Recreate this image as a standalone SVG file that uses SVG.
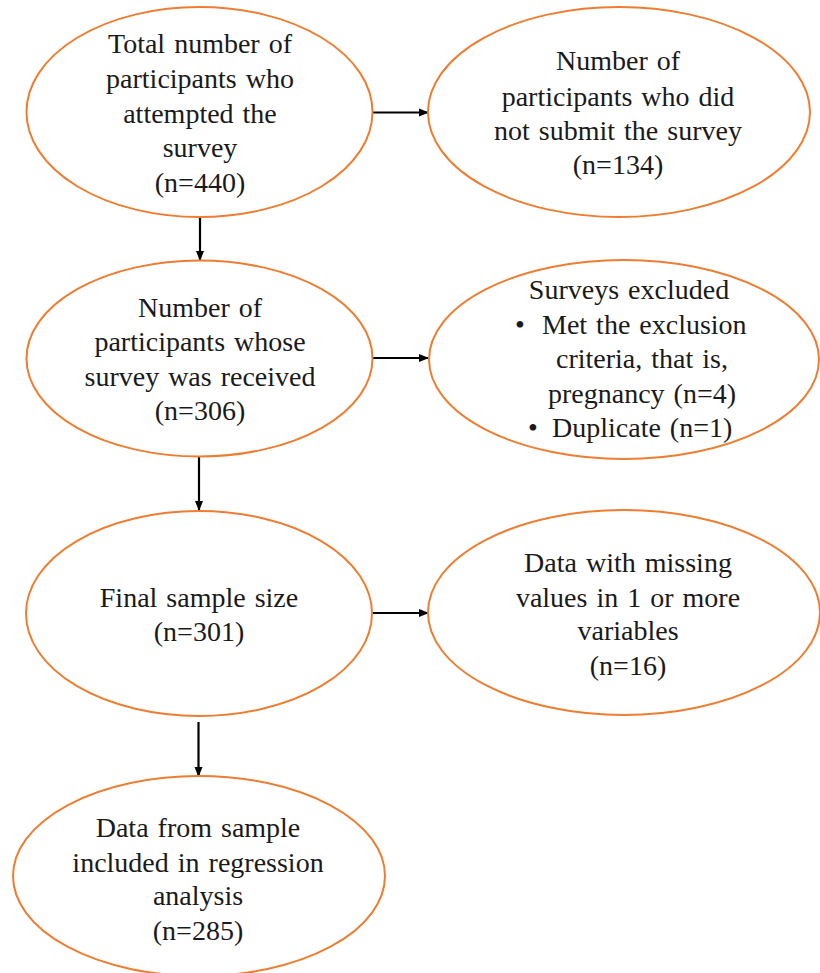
<svg xmlns="http://www.w3.org/2000/svg" width="820" height="973" viewBox="0 0 820 973">
<defs>
<marker id="ah" markerWidth="10" markerHeight="10" refX="9" refY="5" orient="auto" markerUnits="userSpaceOnUse">
<path d="M0,1 L10,5 L0,9 Z" fill="#000"/>
</marker>
<style>
.node ellipse{fill:#fff;stroke:#ED7D31;stroke-width:2}
.node text{font-family:"Liberation Serif","Times New Roman",serif;font-size:28px;fill:#1a1a1a;text-anchor:middle;word-spacing:2px}
.node text.l{text-anchor:start}
.conn line{stroke:#000;stroke-width:2.2;marker-end:url(#ah)}
</style>
</defs>
<rect width="820" height="973" fill="#fff"/>
<g id="connectors" class="conn">
<line x1="373" y1="112.5" x2="428" y2="112.5"/>
<line x1="200" y1="217" x2="200" y2="260"/>
<line x1="373" y1="358" x2="428" y2="358"/>
<line x1="199" y1="457" x2="199" y2="510"/>
<line x1="372" y1="613" x2="428" y2="613"/>
<line x1="198.5" y1="722" x2="198.5" y2="776"/>
</g>
<g id="n1" class="node">
<ellipse cx="199.5" cy="112" rx="173" ry="105"/>
<text x="200" y="53">Total number of</text>
<text x="200" y="88">participants who</text>
<text x="200" y="123">attempted the</text>
<text x="200" y="157">survey</text>
<text x="200" y="192">(n=440)</text>
</g>
<g id="n2" class="node">
<ellipse cx="619" cy="112" rx="191" ry="105"/>
<text x="618" y="70">Number of</text>
<text x="618" y="106">participants who did</text>
<text x="618" y="140">not submit the survey</text>
<text x="618" y="174">(n=134)</text>
</g>
<g id="n3" class="node">
<ellipse cx="199.5" cy="358.5" rx="173" ry="98"/>
<text x="200" y="317">Number of</text>
<text x="200" y="351">participants whose</text>
<text x="200" y="386">survey was received</text>
<text x="200" y="420">(n=306)</text>
</g>
<g id="n4" class="node">
<ellipse cx="624" cy="359.5" rx="195" ry="99.5"/>
<text x="629" y="299">Surveys excluded</text>
<text x="515" y="334" class="l">•</text>
<text x="542" y="334" class="l">Met the exclusion</text>
<text x="642" y="368">criteria, that is,</text>
<text x="642" y="403">pregnancy (n=4)</text>
<text x="528" y="437" class="l">•</text>
<text x="552" y="437" class="l">Duplicate (n=1)</text>
</g>
<g id="n5" class="node">
<ellipse cx="199" cy="613.5" rx="173" ry="102.5"/>
<text x="199" y="607">Final sample size</text>
<text x="199" y="641">(n=301)</text>
</g>
<g id="n6" class="node">
<ellipse cx="624" cy="612.5" rx="196" ry="102.5"/>
<text x="628" y="572">Data with missing</text>
<text x="628" y="607">values in 1 or more</text>
<text x="628" y="640">variables</text>
<text x="628" y="675">(n=16)</text>
</g>
<g id="n7" class="node">
<ellipse cx="199" cy="876" rx="186" ry="100"/>
<text x="198" y="837">Data from sample</text>
<text x="198" y="872">included in regression</text>
<text x="198" y="905">analysis</text>
<text x="198" y="940">(n=285)</text>
</g>
</svg>
